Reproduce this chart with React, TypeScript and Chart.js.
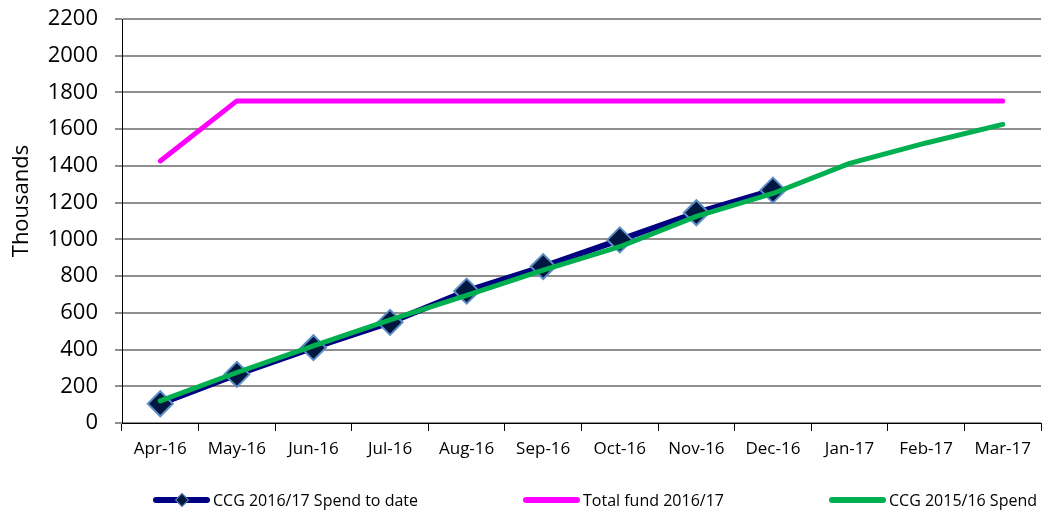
import React, { useEffect, useRef } from "react";
import { Chart, registerables } from "chart.js";

Chart.register(...registerables);

const categories = ["Apr-16", "May-16", "Jun-16", "Jul-16", "Aug-16", "Sep-16", "Oct-16", "Nov-16", "Dec-16", "Jan-17", "Feb-17", "Mar-17"];
const spendToDate = [105, 265, 410, 548, 718, 852, 997, 1145, 1268, null, null, null];
const totalFund = [1427, 1754, 1754, 1754, 1754, 1754, 1754, 1754, 1754, 1754, 1754, 1754];
const spend1516 = [120, 275, 420, 562, 695, 833, 960, 1125, 1250, 1414, 1525, 1626];
const yTicks = [0, 200, 400, 600, 800, 1000, 1200, 1400, 1600, 1800, 2000, 2200];
const seriesNames = ["CCG 2016/17 Spend to date", "Total fund 2016/17", "CCG 2015/16 Spend"];

const FONT = "'Open Sans', Lato, sans-serif";

const yTitlePlugin = {
  id: "yTitle",
  afterDraw(chart: any) {
    const ctx = chart.ctx;
    ctx.save();
    ctx.translate(22, 201);
    ctx.rotate(-Math.PI / 2);
    ctx.font = `22px ${FONT}`;
    ctx.fillStyle = "#000";
    ctx.textAlign = "center";
    ctx.textBaseline = "middle";
    ctx.fillText("Thousands", 0, 0);
    ctx.restore();
  },
};

export default function App() {
  const ref = useRef<HTMLCanvasElement | null>(null);
  useEffect(() => {
    document.body.style.margin = "0";
    const chart = new Chart(ref.current as HTMLCanvasElement, {
      type: "line",
      data: {
        labels: categories,
        datasets: [
          {
            label: seriesNames[0],
            data: spendToDate,
            borderColor: "#000080",
            borderWidth: 6,
            pointStyle: "rectRot",
            pointRadius: 12.5,
            pointBackgroundColor: "#001840",
            pointBorderColor: "#5b8cc6",
            pointBorderWidth: 2,
            order: 3,
            tension: 0,
          },
          {
            label: seriesNames[1],
            data: totalFund,
            borderColor: "#ff00ff",
            borderWidth: 5,
            borderCapStyle: "round",
            borderJoinStyle: "round",
            pointRadius: 0,
            order: 2,
            tension: 0,
          },
          {
            label: seriesNames[2],
            data: spend1516,
            borderColor: "#00b050",
            borderWidth: 5,
            borderCapStyle: "round",
            borderJoinStyle: "round",
            pointRadius: 0,
            order: 1,
            tension: 0,
          },
        ],
      },
      options: {
        animation: false,
        responsive: false,
        layout: { autoPadding: false, padding: { top: 19, right: 1, bottom: 50, left: 0 } },
        plugins: { legend: { display: false }, tooltip: { enabled: false } },
        scales: {
          x: {
            offset: true,
            grid: {
              offset: true,
              drawOnChartArea: false,
              tickLength: 8,
              tickColor: "#000",
              color: "#000",
            },
            border: { color: "#000", width: 1 },
            ticks: { color: "#000", font: { family: FONT, size: 17 }, padding: 8, maxRotation: 0, autoSkip: false },
            afterFit(scale: any) {
              scale.height = 40;
              scale.paddingLeft = 0;
              scale.paddingRight = 0;
            },
          },
          y: {
            min: 0,
            max: 2200,
            afterBuildTicks(scale: any) {
              scale.ticks = yTicks.map((v) => ({ value: v }));
            },
            grid: { color: "#8f8f8f", lineWidth: 2, tickLength: 7, tickColor: "#8f8f8f" },
            border: { color: "#000", width: 1 },
            ticks: {
              color: "#000",
              font: { family: FONT, size: 22 },
              padding: 17,
              callback: (v: any) => String(v),
            },
            afterFit(scale: any) {
              scale.width = 122;
              scale.paddingTop = 0;
              scale.paddingBottom = 0;
            },
          },
        },
      },
      plugins: [yTitlePlugin],
    } as any);
    return () => chart.destroy();
  }, []);

  const legendItem = (left: number, color: string, name: string, marker: boolean) => (
    <div style={{ position: "absolute", left, top: 490, height: 20, display: "flex", alignItems: "center" }}>
      <div style={{ position: "relative", width: 57, height: 6, background: color, borderRadius: 3 }}>
        {marker && (
          <div
            style={{
              position: "absolute",
              left: 24,
              top: -2,
              width: 8,
              height: 8,
              background: "#001840",
              border: "1px solid #5b8cc6",
              transform: "rotate(45deg)",
            }}
          />
        )}
      </div>
      <span style={{ marginLeft: 3, font: `16px ${FONT}`, color: "#000", whiteSpace: "nowrap" }}>{name}</span>
    </div>
  );

  return (
    <div style={{ position: "fixed", left: 0, top: 0, width: 1042, height: 513, background: "#fff" }}>
      <canvas ref={ref} width={1042} height={513} />
      {legendItem(153, "#000080", seriesNames[0], true)}
      {legendItem(523, "#ff00ff", seriesNames[1], false)}
      {legendItem(829, "#00b050", seriesNames[2], false)}
    </div>
  );
}
